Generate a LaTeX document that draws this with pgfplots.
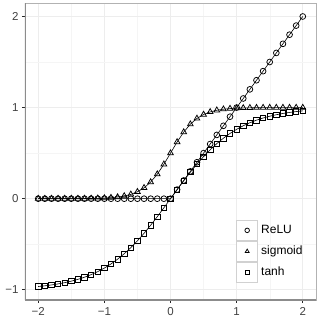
\documentclass[border=0pt]{standalone}
\usepackage{pgfplots}
\pgfplotsset{compat=1.18}
\usepackage{pgfplotstable}
\usepackage{fontspec}
\setmainfont{Liberation Sans}
\pgfplotstableread{
x relu sig tanh
-2.0 0 0.0000454 -0.964028
-1.9 0 0.0000749 -0.956237
-1.8 0 0.000123 -0.946806
-1.7 0 0.000203 -0.935409
-1.6 0 0.000335 -0.921669
-1.5 0 0.000553 -0.905148
-1.4 0 0.000911 -0.885352
-1.3 0 0.001501 -0.861723
-1.2 0 0.002473 -0.833655
-1.1 0 0.004070 -0.800499
-1.0 0 0.006693 -0.761594
-0.9 0 0.010987 -0.716298
-0.8 0 0.017986 -0.664037
-0.7 0 0.029312 -0.604368
-0.6 0 0.047426 -0.537050
-0.5 0 0.075858 -0.462117
-0.4 0 0.119203 -0.379949
-0.3 0 0.182426 -0.291313
-0.2 0 0.268941 -0.197375
-0.1 0 0.377541 -0.099668
0.0 0 0.5 0
0.1 0.1 0.622459 0.099668
0.2 0.2 0.731059 0.197375
0.3 0.3 0.817574 0.291313
0.4 0.4 0.880797 0.379949
0.5 0.5 0.924142 0.462117
0.6 0.6 0.952574 0.537050
0.7 0.7 0.970688 0.604368
0.8 0.8 0.982014 0.664037
0.9 0.9 0.989013 0.716298
1.0 1.0 0.993307 0.761594
1.1 1.1 0.995930 0.800499
1.2 1.2 0.997527 0.833655
1.3 1.3 0.998499 0.861723
1.4 1.4 0.999089 0.885352
1.5 1.5 0.999447 0.905148
1.6 1.6 0.999665 0.921669
1.7 1.7 0.999797 0.935409
1.8 1.8 0.999877 0.946806
1.9 1.9 0.999925 0.956237
2.0 2.0 0.999955 0.964028
}\data
\begin{document}
\begin{tikzpicture}
\begin{axis}[
  scale only axis,
  width=291pt, height=297pt,
  xmin=-2.2, xmax=2.2, ymin=-1.112, ymax=2.148,
  xtick={-2,-1,0,1,2}, xticklabels={−2,−1,0,1,2},
  ytick={-1,0,1,2}, yticklabels={−1,0,1,2},
  minor xtick={-1.5,-0.5,0.5,1.5},
  minor ytick={-0.5,0.5,1.5},
  grid=both,
  major grid style={black!7, line width=0.6pt},
  minor grid style={black!4, line width=0.4pt},
  minor tick length=0pt,
  major tick length=3pt,
  tick align=outside,
  tick pos=left,
  tick style={black!85, line width=1pt},
  axis line style={black!30, line width=0.6pt},
  ticklabel style={font=\fontsize{11.5}{13}\selectfont, text=black!75},
  xticklabel style={yshift=-1pt},
  legend style={at={(rel axis cs:0.725,0.057)}, anchor=south west,
    draw=none, fill=none, inner sep=0pt, row sep=0pt, column sep=2pt,
    font=\fontsize{12}{13}\selectfont,
    nodes={inner sep=1pt, text height=9pt, text depth=2pt}},
  legend cell align=left,
  legend image code/.code={
    \draw[draw=black!18, line width=1pt, fill=white, solid] (0pt,-10pt) rectangle (21pt,10pt);
    \draw[#1, only marks, mark size=2.3pt] plot coordinates {(10.5pt,0pt)};
  },
]
\addplot[black, line width=0.6pt, mark=o, mark size=2.9pt, mark options={solid, line width=0.75pt}] table[x=x, y=relu] {\data};
\addlegendentry{ReLU}
\addplot[black, line width=0.6pt, mark=triangle, mark size=3.3pt, mark options={solid, line width=0.75pt}] table[x=x, y=sig] {\data};
\addlegendentry{sigmoid}
\addplot[black, line width=0.6pt, mark=square, mark size=2.7pt, mark options={solid, line width=0.75pt}] table[x=x, y=tanh] {\data};
\addlegendentry{tanh}
\draw[black!45, line width=1.2pt] (rel axis cs:0,0) -- (rel axis cs:0,1);
\draw[black!45, line width=1.2pt] (rel axis cs:0,0) -- (rel axis cs:1,0);
\end{axis}
\path ([shift={(-25pt,-20pt)}]current axis.south west) rectangle ([shift={(4pt,3pt)}]current axis.north east);
\end{tikzpicture}
\end{document}
